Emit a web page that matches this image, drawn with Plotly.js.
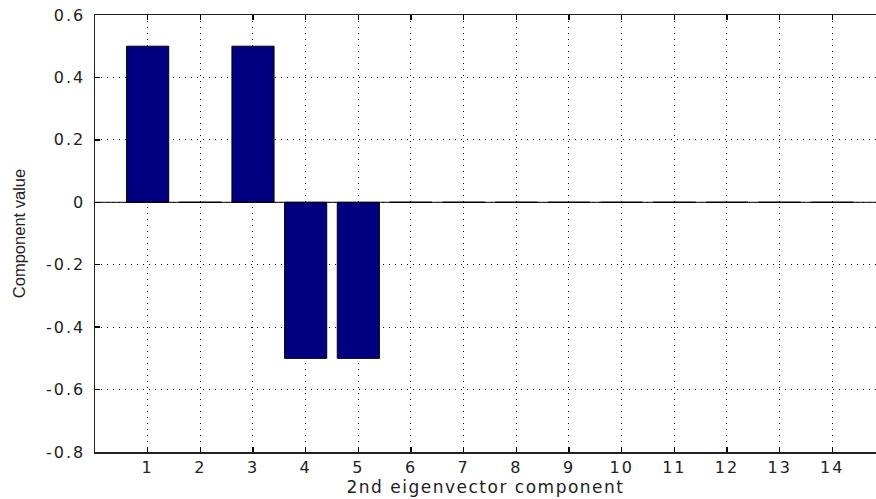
<!DOCTYPE html>
<html>
<head>
<meta charset="utf-8">
<script src="https://cdn.plot.ly/plotly-3.0.1.min.js"></script>
<style>
html,body{margin:0;padding:0;background:#fff;}
#chart{width:876px;height:499px;}
#chart .xtick text, #chart .ytick text{letter-spacing:2px;}
#chart .g-xtitle text{letter-spacing:1.5px;}
</style>
</head>
<body>
<div id="chart"></div>
<script>
const components = [1,2,3,4,5,6,7,8,9,10,11,12,13,14];
const values = [0.5,0,0.5,-0.5,-0.5,0,0,0,0,0,0,0,0,0];
const yTicks = [-0.8,-0.6,-0.4,-0.2,0,0.2,0.4,0.6];
const yTickText = ['-0.8','-0.6','-0.4','-0.2','0','0.2','0.4','0.6'];
const xTitle = '2nd eigenvector component';
const yTitle = 'Component value';

const trace = {
  type: 'bar',
  x: components,
  y: values,
  width: 0.8,
  marker: {color: '#000080', line: {color: '#000000', width: 1}},
  hoverinfo: 'x+y'
};

const tickFont = {family: 'DejaVu Sans, Liberation Sans, Arial, sans-serif', size: 16, color: '#222'};
const gridDash = '1px,5px';

const layout = {
  width: 876, height: 499,
  margin: {l: 95, r: 0, t: 15, b: 47},
  paper_bgcolor: '#ffffff',
  plot_bgcolor: '#ffffff',
  showlegend: false,
  xaxis: {
    range: [0, 14.83],
    tickvals: components,
    ticktext: components.map(String),
    ticks: 'inside', ticklen: 5, tickcolor: '#000', tickwidth: 1.5,
    showline: true, linecolor: '#222', linewidth: 1.5, mirror: 'ticks',
    showgrid: true, gridcolor: '#000', griddash: gridDash, gridwidth: 1,
    zeroline: false,
    tickfont: tickFont,
    title: {text: xTitle, font: {family: 'DejaVu Sans, Liberation Sans, Arial, sans-serif', size: 17, color: '#222'}, standoff: 0}
  },
  yaxis: {
    range: [-0.8, 0.6],
    tickvals: yTicks,
    ticktext: yTickText,
    ticks: 'inside', ticklen: 5, tickcolor: '#000', tickwidth: 1.5,
    showline: true, linecolor: '#222', linewidth: 1.5,
    showgrid: true, gridcolor: '#000', griddash: gridDash, gridwidth: 1,
    zeroline: false,
    tickfont: tickFont,
    ticklabelstandoff: 5,
    title: {text: yTitle, font: {family: 'Liberation Sans, Arial, sans-serif', size: 16.5, color: '#222'}, standoff: 24}
  },
  shapes: [{
    type: 'line', xref: 'paper', x0: 0, x1: 1, yref: 'y', y0: 0, y1: 0,
    line: {color: '#000', width: 1}, layer: 'above'
  }]
};

Plotly.newPlot('chart', [trace], layout, {displayModeBar: false, staticPlot: true});
</script>
</body>
</html>
